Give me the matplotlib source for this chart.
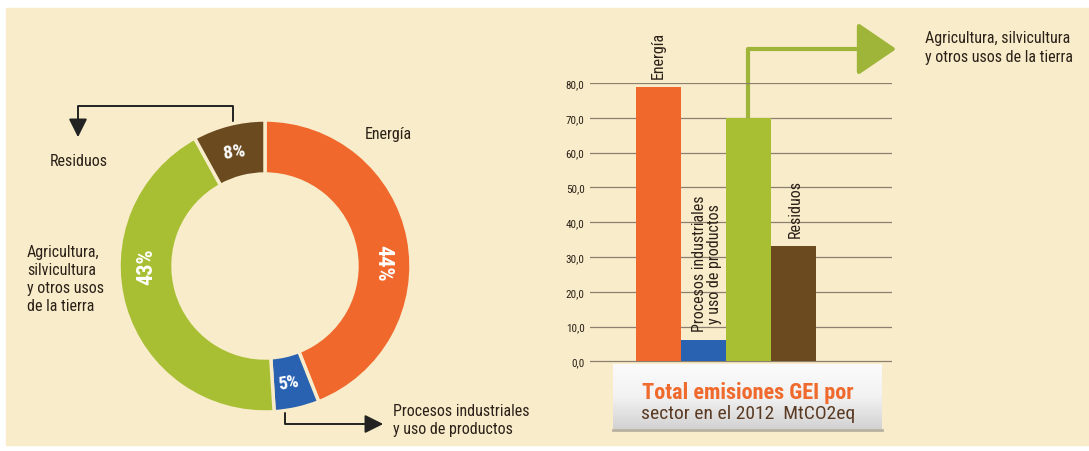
import numpy as np
import matplotlib
matplotlib.use("Agg")
import matplotlib.pyplot as plt
from matplotlib import font_manager

# data
sectors = ["Energía", "Procesos industriales\ny uso de productos",
           "Agricultura, silvicultura\ny otros usos de la tierra", "Residuos"]
shares = [44, 5, 43, 8]                # % donut
emissions = [78.8, 6.2, 70.0, 33.2]    # MtCO2eq bars
yticks = [0, 10, 20, 30, 40, 50, 60, 70, 80]

colors = ["#f0682c", "#2a62b2", "#a9bf33", "#6b4a1f"]
bg = "#f8ecca"

names = {f.name for f in font_manager.fontManager.ttflist}
narrow = "DejaVu Sans"
for cand in ["Liberation Sans Narrow", "Roboto Condensed", "Open Sans Condensed"]:
    if cand in names:
        narrow = cand
        break
plt.rcParams["font.family"] = [narrow, "DejaVu Sans"]

W, H = 1089, 452
fig = plt.figure(figsize=(W / 100, H / 100), dpi=100)
fig.patch.set_facecolor("white")

def px_axes(x0, y0, x1, y1):
    return fig.add_axes([x0 / W, 1 - y1 / H, (x1 - x0) / W, (y1 - y0) / H])

# overlay in pixel coords
ov = px_axes(0, 0, W, H)
ov.set_xlim(0, W)
ov.set_ylim(H, 0)
ov.axis("off")
ov.add_patch(plt.Rectangle((6, 9), W - 6, 437, color=bg, zorder=0))

# ---- donut ----
cx, cy, R = 265, 267, 146
dax = px_axes(cx - R, cy - R, cx + R, cy + R)
wedges, _ = dax.pie(shares, colors=colors, startangle=90, counterclock=False,
                    radius=1, wedgeprops=dict(width=0.37, edgecolor=bg, linewidth=2.5))
dax.set_xlim(-1, 1)
dax.set_ylim(-1, 1)
dax.axis("off")

lab_ang = [2, -78.5, 180, 105]
lab_rot = [-90, 10, 90, 8]
lab_size = [16, 13, 16, 14]
for s, a, r, fs in zip(shares, lab_ang, lab_rot, lab_size):
    t = np.radians(a)
    dax.text(0.81 * np.cos(t), 0.81 * np.sin(t), f"{s}%", color="white",
             fontsize=fs, fontweight="bold", rotation=r,
             ha="center", va="center")

txt = dict(color="#2b2118", fontsize=11.5)
ov.text(365, 135, "Energía", ha="left", va="center", **txt)
ov.text(79, 162, "Residuos", ha="center", va="center", **txt)
ov.text(27, 280, "Agricultura,\nsilvicultura\ny otros usos\nde la tierra",
        ha="left", va="center", linespacing=1.25, **txt)
ov.text(393, 421, "Procesos industriales\ny uso de productos",
        ha="left", va="center", linespacing=1.25, **txt)

ark = "#222222"
ov.plot([233, 233, 78, 78], [122, 107, 107, 128], color=ark, lw=1.4)
ov.annotate("", xy=(78, 141), xytext=(78, 126),
            arrowprops=dict(arrowstyle="-|>,head_length=0.8,head_width=0.4",
                            color=ark, lw=1.4, mutation_scale=14))
ov.plot([285, 285, 372], [412, 425, 425], color=ark, lw=1.4)
ov.annotate("", xy=(386, 425), xytext=(370, 425),
            arrowprops=dict(arrowstyle="-|>,head_length=0.8,head_width=0.4",
                            color=ark, lw=1.4, mutation_scale=14))

# ---- bars ----
bax = px_axes(590, 84, 892, 367.7)
bax.set_facecolor("none")
x = np.arange(len(emissions))
bax.set_ylim(-1.5, 80)
bax.set_xlim(-1.52, -1.52 + 302 / 45)
for yv in yticks:
    bax.axhline(yv, color="#8b8070", lw=0.9, zorder=1)
bax.bar(x, emissions, width=1.0, color=colors, zorder=2)
for sp in bax.spines.values():
    sp.set_visible(False)
bax.set_xticks([])
bax.set_yticks(yticks)
bax.set_yticklabels([f"{v:.1f}".replace(".", ",") for v in yticks],
                    fontsize=8, color="#2b2118")
bax.tick_params(axis="y", length=0, pad=4)

bar_labels = ["Energía", "Procesos industriales\ny uso de productos", None, "Residuos"]
xoff = [0, 0.08, 0, 0.05]
for xi, v, lab, dx in zip(x, emissions, bar_labels, xoff):
    if lab:
        bax.text(xi + dx, v + 2.5, lab, rotation=90, ha="center", va="bottom",
                 fontsize=11.5, color="#2b2118", linespacing=1.0, zorder=3)

# green arrow from the agricultura bar
gx, gy = ov.transData.inverted().transform(bax.transData.transform((x[2], emissions[2])))
green = "#9fb53a"
ov.plot([gx, gx, 880], [gy, 50, 50], color=green, lw=3, solid_capstyle="butt")
ov.annotate("", xy=(899, 50), xytext=(872, 50),
            arrowprops=dict(arrowstyle="-|>,head_length=1.1,head_width=0.75",
                            color=green, lw=3, mutation_scale=22))
ov.text(925, 48, "Agricultura, silvicultura\ny otros usos de la tierra",
        ha="left", va="center", linespacing=1.3, **txt)

# banner
grad = np.linspace(0, 1, 100).reshape(-1, 1)
ov.imshow(grad, cmap=matplotlib.colors.LinearSegmentedColormap.from_list(
    "ban", ["#fbfbfb", "#f2f2f2", "#d2d2d2"]), extent=(613, 882, 430, 365),
    aspect="auto", zorder=5)
ov.plot([613, 882], [431, 431], color="#b8b0a0", lw=2, zorder=5)
ov.set_xlim(0, W)
ov.set_ylim(H, 0)
ov.text(748, 393, "Total emisiones GEI por", ha="center", va="center",
        fontsize=16, fontweight="bold", color="#ef6a2c", zorder=6)
ov.text(748, 414, "sector en el 2012  MtCO2eq", ha="center", va="center",
        fontsize=14, color="#5a3a22", zorder=6)

ov.set_zorder(0)
dax.set_zorder(1)
bax.set_zorder(1)

fig.savefig("out.png", dpi=100)
